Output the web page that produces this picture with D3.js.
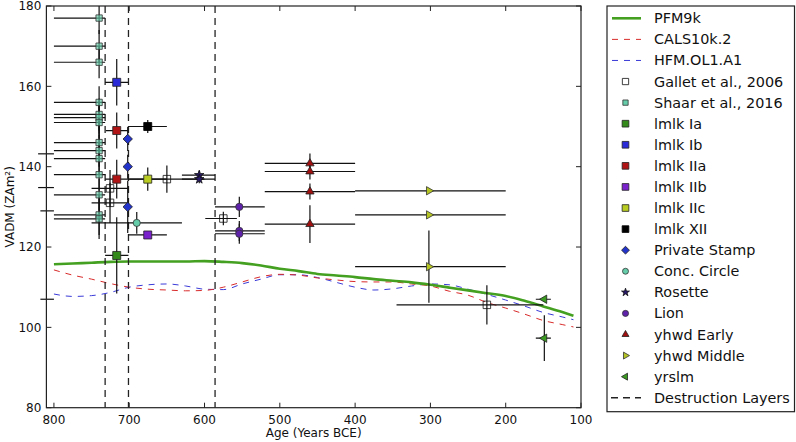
<!DOCTYPE html>
<html><head><meta charset="utf-8">
<script src="https://cdn.jsdelivr.net/npm/d3@7"></script>
<style>body{margin:0;background:#fff}svg{display:block;font-family:"DejaVu Sans",sans-serif}</style>
</head><body><svg id="c" width="796" height="442"></svg>
<script>
// ---- model curves ----
const modelYears=[800,775,750,725,700,675,650,625,600,575,550,525,500,475,450,425,400,375,350,325,300,275,250,225,200,175,150,125,110];
const pfm9k   =[115.7,115.9,116.1,116.3,116.4,116.4,116.4,116.4,116.5,116.3,116.0,115.4,114.6,114.0,113.3,112.9,112.5,112.0,111.6,111.2,110.6,109.9,109.2,108.5,107.8,106.6,105.2,103.8,102.9];
const cals10k2=[114.3,113.0,112.0,110.9,110.0,109.5,109.3,109.1,109.2,110.0,111.3,112.6,113.2,113.0,112.3,111.8,111.4,111.3,111.3,110.8,110.3,109.0,108.0,106.2,104.8,103.3,101.7,100.7,100.1];
const hfmOL1A1=[108.3,107.7,107.9,108.7,110.0,110.6,110.8,110.3,109.5,109.4,110.8,112.0,113.1,113.1,112.4,111.2,110.0,109.3,109.6,110.3,110.8,110.6,109.5,108.2,106.8,105.3,103.7,102.6,101.9];
const destructionLayers=[732,701,586];
const xTicks=[800,700,600,500,400,300,200,100];
const yTicks=[80,100,120,140,160,180];
// ---- data points: [age BCE, VADM, oldest age, youngest age, VADM error] ----
const gallet2006=[[725.5,134.6,750,701,4.6],[725.5,131.0,750,701,5],[650,136.9,700,600,3.4],[575,127.1,599,557,1.7],[225,105.6,345,150,4.9]];
const shaar2016=[[740,177,800,732,4],[740,170,800,732,4],[740,166,800,732,4],[740,156,800,732,4],[740,153,800,732,4],[740,152.2,800,732,4],[740,151,800,732,4],[740,146,800,732,4],[740,144,800,732,4],[740,142,800,732,4],[740,138,800,732,4],[740,133,800,732,4],[740,128,800,732,5],[740,127,800,732,5]];
const lmlkIa=[[716.6,117.9,732,701,9.5]];
const lmlkIb=[[716.6,161.0,732,701,5.8]];
const lmlkIIa=[[716.6,149.0,731,702,4.5],[716.6,136.9,732,701,4.8]];
const lmlkIIb=[[675.4,123.0,701,650,1]];
const lmlkIIc=[[675.4,136.9,701,650,2.9]];
const lmlkXII=[[675.4,150.0,701,650,1.6]];
const privateStamp=[[702,146.9,702,702,3],[702,140.0,702,702,3],[702,130.0,702,702,6.5]];
const concCircle=[[690,126.0,750,630,2.7]];
const rosette=[[607,137.9,630,586,1],[607,136.9,630,586,1]];
const lion=[[553.8,130.0,586,520,2.5],[553.8,124.0,586,520,2.5],[553.8,123.3,586,520,2.5]];
const yhwdEarly=[[460,140.8,520,400,2.5],[460,138.8,520,400,2],[460,133.8,520,400,2],[460,125.7,520,400,4.7]];
const yhwdMiddle=[[302,134.0,400,200,0.5],[302,128.0,400,200,0.5],[302,115.1,400,200,9]];
const yrslm=[[148.7,107.0,160,140,0.5],[148.7,97.3,160,140,5.7]];
// bars extending past the left edge: [VADM, oldest age, youngest age]
const offAxisBars=[[143.2,821,800],[134.8,821,800],[129.0,818,800],[107.0,818,800]];

const svg=d3.select("#c");
const L=46.4,R=581,T=6,B=407.7;
const x=d3.scaleLinear().domain([810,100]).range([L,R]);
const y=d3.scaleLinear().domain([80,180]).range([B,T]);

svg.append("defs").append("clipPath").attr("id","clip").append("rect").attr("x",L).attr("y",T).attr("width",R-L).attr("height",B-T);
const plot=svg.append("g").attr("clip-path","url(#clip)");

const series=[
 {name:"Gallet et al., 2006",data:gallet2006,shape:"square",size:56,fill:"none",stroke:"#111"},
 {name:"Shaar et al., 2016",data:shaar2016,shape:"square",size:40,fill:"#66cdaa",stroke:"#333",op:0.65},
 {name:"lmlk Ia",data:lmlkIa,shape:"square",size:64,fill:"#358a1c",stroke:"#222"},
 {name:"lmlk Ib",data:lmlkIb,shape:"square",size:64,fill:"#2a2ad8",stroke:"#222"},
 {name:"lmlk IIa",data:lmlkIIa,shape:"square",size:64,fill:"#b01414",stroke:"#222"},
 {name:"lmlk IIb",data:lmlkIIb,shape:"square",size:64,fill:"#7a22cc",stroke:"#222"},
 {name:"lmlk IIc",data:lmlkIIc,shape:"square",size:64,fill:"#b8cc22",stroke:"#222"},
 {name:"lmlk XII",data:lmlkXII,shape:"square",size:64,fill:"#000",stroke:"#000"},
 {name:"Private Stamp",data:privateStamp,shape:"diamond",size:44,fill:"#2233cc",stroke:"#222"},
 {name:"Conc. Circle",data:concCircle,shape:"circle",size:40,fill:"#66cdaa",stroke:"#333"},
 {name:"Rosette",data:rosette,shape:"star",size:28,fill:"#2a1a6a",stroke:"#111"},
 {name:"Lion",data:lion,shape:"circle",size:42,fill:"#5e22aa",stroke:"#333"},
 {name:"yhwd Early",data:yhwdEarly,shape:"triUp",size:30,fill:"#a01010",stroke:"#222"},
 {name:"yhwd Middle",data:yhwdMiddle,shape:"triRight",size:30,fill:"#b4c422",stroke:"#333"},
 {name:"yrslm",data:yrslm,shape:"triLeft",size:30,fill:"#3a9a22",stroke:"#222"}
];
function symPath(shape,size){
  const t={square:d3.symbolSquare,diamond:d3.symbolSquare,circle:d3.symbolCircle,star:d3.symbolStar,triUp:d3.symbolTriangle,triRight:d3.symbolTriangle,triLeft:d3.symbolTriangle}[shape];
  return d3.symbol().type(t).size(size)();
}
function symRot(shape){return shape==="diamond"?45:shape==="triRight"?90:shape==="triLeft"?-90:0;}

// model curves
const line=d3.line().curve(d3.curveMonotoneX).x((d,i)=>x(modelYears[i])).y(d=>y(d));
plot.append("path").datum(hfmOL1A1).attr("d",line).attr("fill","none").attr("stroke","#3a3ad8").attr("stroke-width",1).attr("stroke-dasharray","6,6");
plot.append("path").datum(cals10k2).attr("d",line).attr("fill","none").attr("stroke","#d82a2a").attr("stroke-width",1).attr("stroke-dasharray","6,6");
plot.append("path").datum(pfm9k).attr("d",line).attr("fill","none").attr("stroke","#44a020").attr("stroke-width",2.6);

// destruction layers
plot.selectAll(".dl").data(destructionLayers).enter().append("line")
 .attr("x1",d=>x(d)).attr("x2",d=>x(d)).attr("y1",T).attr("y2",B)
 .attr("stroke","#222").attr("stroke-width",1.3).attr("stroke-dasharray","7,5");

// off-axis bars (unclipped)
svg.selectAll(".oab").data(offAxisBars).enter().append("line")
 .attr("x1",d=>x(d[1])).attr("x2",d=>x(d[2])).attr("y1",d=>y(d[0])).attr("y2",d=>y(d[0]))
 .attr("stroke","#111").attr("stroke-width",1.2);

// error bars and markers
series.forEach(s=>{
  const g=plot.append("g");
  g.selectAll(".h").data(s.data.filter(d=>d[2]!==d[3])).enter().append("line")
   .attr("x1",d=>x(d[2])).attr("x2",d=>x(d[3])).attr("y1",d=>y(d[1])).attr("y2",d=>y(d[1]))
   .attr("stroke","#111").attr("stroke-width",1.2);
  g.selectAll(".v").data(s.data).enter().append("line")
   .attr("x1",d=>x(d[0])).attr("x2",d=>x(d[0])).attr("y1",d=>y(d[1]-d[4])).attr("y2",d=>y(d[1]+d[4]))
   .attr("stroke","#111").attr("stroke-width",1.2);
});
series.forEach(s=>{
  plot.append("g").selectAll("path").data(s.data).enter().append("path")
   .attr("d",symPath(s.shape,s.size))
   .attr("transform",d=>`translate(${x(d[0])},${y(d[1])}) rotate(${symRot(s.shape)})`)
   .attr("fill",s.fill).attr("fill-opacity",s.op||1).attr("stroke",s.stroke).attr("stroke-width",0.8);
});

// frame and ticks
svg.append("rect").attr("x",L).attr("y",T).attr("width",R-L).attr("height",B-T).attr("fill","none").attr("stroke","#222").attr("stroke-width",1.2);
const tk=5;
xTicks.forEach(v=>{
  svg.append("line").attr("x1",x(v)).attr("x2",x(v)).attr("y1",B).attr("y2",B-tk).attr("stroke","#222");
  svg.append("line").attr("x1",x(v)).attr("x2",x(v)).attr("y1",T).attr("y2",T+tk).attr("stroke","#222");
  svg.append("text").attr("x",x(v)).attr("y",B+16).attr("text-anchor","middle").attr("font-size",12).attr("fill","#111").text(v);
});
yTicks.forEach(v=>{
  svg.append("line").attr("x1",L).attr("x2",L+tk).attr("y1",y(v)).attr("y2",y(v)).attr("stroke","#222");
  svg.append("line").attr("x1",R).attr("x2",R-tk).attr("y1",y(v)).attr("y2",y(v)).attr("stroke","#222");
  svg.append("text").attr("x",L-5).attr("y",y(v)+4.3).attr("text-anchor","end").attr("font-size",12).attr("fill","#111").text(v);
});
svg.append("text").attr("x",(L+R)/2).attr("y",437).attr("text-anchor","middle").attr("font-size",12).attr("fill","#111").text("Age (Years BCE)");
svg.append("text").attr("transform",`translate(14,${(T+B)/2}) rotate(-90)`).attr("text-anchor","middle").attr("font-size",12).attr("fill","#111").text("VADM (ZAm²)");

// legend
const lg=svg.append("g");
lg.append("rect").attr("x",607).attr("y",6).attr("width",187.5).attr("height",405.7).attr("fill","#fff").attr("stroke","#222").attr("stroke-width",1.2);
const ly0=18.3,ldy=21.08,lx0=612,lx1=641,tx=654;
const lineEntries=[{name:"PFM9k",c:"#44a020",w:2.6,dash:null},{name:"CALS10k.2",c:"#d82a2a",w:1,dash:"6,6"},{name:"HFM.OL1.A1",c:"#3a3ad8",w:1,dash:"6,6"}];
lineEntries.forEach((e,i)=>{
  const yy=ly0+i*ldy;
  lg.append("line").attr("x1",lx0).attr("x2",lx1).attr("y1",yy).attr("y2",yy).attr("stroke",e.c).attr("stroke-width",e.w).attr("stroke-dasharray",e.dash);
  lg.append("text").attr("x",tx).attr("y",yy+5).attr("font-size",14.4).attr("fill","#111").text(e.name);
});
series.forEach((s,j)=>{
  const yy=ly0+(j+3)*ldy;
  lg.append("path").attr("d",symPath(s.shape,s.size*0.7))
   .attr("transform",`translate(${(lx0+lx1)/2-1},${yy}) rotate(${symRot(s.shape)})`)
   .attr("fill",s.fill==="none"?"#fff":s.fill).attr("stroke",s.stroke).attr("stroke-width",0.8);
  lg.append("text").attr("x",tx).attr("y",yy+5).attr("font-size",14.4).attr("fill","#111").text(s.name);
});
{
  const yy=ly0+18*ldy;
  lg.append("line").attr("x1",lx0-4).attr("x2",lx1).attr("y1",yy).attr("y2",yy).attr("stroke","#222").attr("stroke-width",1.3).attr("stroke-dasharray","7,5").attr("stroke-dashoffset",-3);
  lg.append("text").attr("x",tx).attr("y",yy+5).attr("font-size",14.4).attr("fill","#111").text("Destruction Layers");
}
</script></body></html>
